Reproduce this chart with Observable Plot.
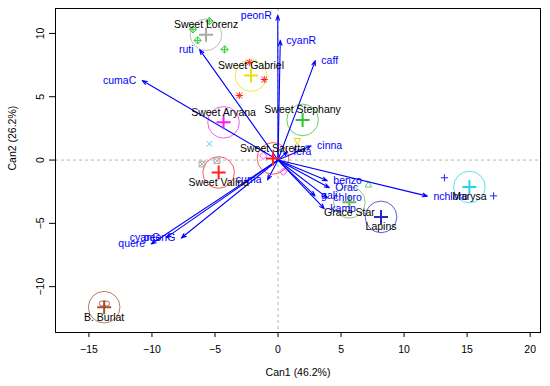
<!DOCTYPE html>
<html><head><meta charset="utf-8">
<script src="https://cdn.jsdelivr.net/npm/d3@7"></script>
<script src="https://cdn.jsdelivr.net/npm/@observablehq/plot@0.6"></script>
<style>body{margin:0;background:#fff;} svg{display:block}</style>
</head><body><div id="chart"></div>
<script>
// ---- data ----
const groupNames = ["Sweet Lorenz","Sweet Gabriel","Sweet Aryana","Sweet Stephany","Sweet Saretta","Sweet Valina","Grace Star","Lapins","Marysa","B. Burlat"];
const groupX = [-5.71,-2.14,-4.32,1.95,-0.40,-4.71,5.66,8.17,15.18,-13.79];
const groupY = [9.90,6.67,2.98,3.17,0.13,-0.98,-3.34,-4.49,-2.13,-11.62];
const groupColors = ["#a8a8a8","#ece000","#f020f0","#30c030","#ff2020","#ff2020","#70b840","#2828c8","#20d8e8","#a0522d"];

const varNames = ["peonR","cyanR","caff","cumaC","ruti","cinna","fera","cuma","benzo","Orac","chloro","gali","kamp","nchloro","quere","cyanG","peonG"];
const varX = [-0.02,0.18,2.96,-10.77,-6.22,2.62,0.74,-0.83,3.91,4.07,3.91,2.94,3.67,11.85,-10.06,-8.87,-7.67];
const varY = [11.43,9.45,7.85,6.28,8.72,1.13,0.66,-1.56,-1.64,-2.19,-2.99,-2.83,-3.84,-2.85,-6.63,-6.13,-6.16];

const obsX = [-5.45,-6.75,-6.38,-4.24,-2.28,-1.09,-3.07,-5.45,1.53,-1.17,0.42,-6.03,-4.84,7.17,13.2,17.1,-13.97,-13.57];
const obsY = [10.98,10.32,9.45,8.74,7.71,6.36,5.10,1.29,1.53,0.34,-0.93,-0.32,-0.06,-1.96,-1.40,-2.83,-11.33,-11.33];
const obsShape = ["diamondPlus","diamondPlus","diamondPlus","diamondPlus","asterisk","asterisk","asterisk","times","triDown","diamond","diamond","squareX","squareX","triUp","plus","plus","circle","circle"];
const shapeNames = ["diamondPlus","asterisk","times","triDown","diamond","squareX","triUp","plus","circle"];
const shapeColors = ["#33cc33","#ff2020","#40d8f0","#e8d800","#ff40ff","#aaaaaa","#66cc66","#2020ff","#c06060"];

const xTicks = [-15,-10,-5,0,5,10,15,20];
const yTicks = [-10,-5,0,5,10];
const xTitle = "Can1 (46.2%)";
const yTitle = "Can2 (26.2%)";

// ---- build tables ----
const groups = groupNames.map((n,i)=>({name:n, x:groupX[i], y:groupY[i], color:groupColors[i]}));
const vars = varNames.map((n,i)=>({name:n, x:varX[i], y:varY[i]}));
const obs = obsX.map((x,i)=>({x, y:obsY[i], shape:obsShape[i], color:shapeColors[shapeNames.indexOf(obsShape[i])]}));

// ---- custom symbols (r = half extent) ----
const sym = f => ({draw(c,size){ const r=Math.sqrt(size/Math.PI); f(c,r); }});
const plusP = (c,r)=>{c.moveTo(-r,0);c.lineTo(r,0);c.moveTo(0,-r);c.lineTo(0,r);};
const timesP = (c,r)=>{const a=r*0.78;c.moveTo(-a,-a);c.lineTo(a,a);c.moveTo(-a,a);c.lineTo(a,-a);};
const diamondP = (c,r)=>{c.moveTo(0,-r);c.lineTo(r,0);c.lineTo(0,r);c.lineTo(-r,0);c.closePath();};
const symbols = {
  plus: sym(plusP),
  times: sym(timesP),
  asterisk: sym((c,r)=>{plusP(c,r);timesP(c,r);}),
  diamond: sym(diamondP),
  diamondPlus: sym((c,r)=>{diamondP(c,r);plusP(c,r);}),
  squareX: sym((c,r)=>{const a=r*0.8;c.rect(-a,-a,2*a,2*a);c.moveTo(-a,-a);c.lineTo(a,a);c.moveTo(-a,a);c.lineTo(a,-a);}),
  triUp: sym((c,r)=>{c.moveTo(0,-r);c.lineTo(r*0.9,r*0.6);c.lineTo(-r*0.9,r*0.6);c.closePath();}),
  triDown: sym((c,r)=>{c.moveTo(0,r);c.lineTo(r*0.9,-r*0.6);c.lineTo(-r*0.9,-r*0.6);c.closePath();}),
  circle: sym((c,r)=>{c.moveTo(r,0);c.arc(0,0,r,0,2*Math.PI);})
};

const font = "'Liberation Sans', Arial, Helvetica, sans-serif";
const obsMarks = shapeNames.map(s => Plot.dot(obs.filter(d=>d.shape===s), {
  x:"x", y:"y", symbol: symbols[s], r: s==="circle"?2.6:3.6, fill:"none", stroke:"color", strokeWidth:1
}));

const chart = Plot.plot({
  width: 550, height: 386,
  marginLeft: 55, marginRight: 10, marginTop: 8, marginBottom: 54,
  x: {domain: [-17.65, 20.82]},
  y: {domain: [-13.62, 11.97]},
  color: {type: "identity"},
  style: {fontFamily: font, fontSize: "11px", background: "#fff", color: "#000"},
  marks: [
    Plot.ruleY([0], {stroke:"#aaa", strokeDasharray:"3,3", strokeWidth:0.9}),
    Plot.ruleX([0], {stroke:"#aaa", strokeDasharray:"3,3", strokeWidth:0.9}),
    Plot.dot(groups, {x:"x", y:"y", r:15.8, fill:"none", stroke:"color", strokeWidth:1, strokeOpacity:0.75}),
    ...obsMarks,
    Plot.arrow(vars, {x1: ()=>0, y1: ()=>0, x2:"x", y2:"y", stroke:"blue", strokeWidth:1.1, headLength:7, headAngle:40}),
    Plot.dot(groups, {x:"x", y:"y", r:7, symbol: symbols.plus, fill:"none", stroke:"color", strokeWidth:2}),
    Plot.text(vars.filter(d=>d.x>=0), {x:"x", y:"y", text:"name", textAnchor:"start", dx:6, fill:"blue", fontSize:10.5}),
    Plot.text(vars.filter(d=>d.x<0), {x:"x", y:"y", text:"name", textAnchor:"end", dx:-6, fill:"blue", fontSize:10.5}),
    Plot.text(groups.filter(d=>d.y>0), {x:"x", y:"y", text:"name", dy:-10, fill:"black", fontSize:10.5}),
    Plot.text(groups.filter(d=>d.y<=0), {x:"x", y:"y", text:"name", dy:10, fill:"black", fontSize:10.5}),
    Plot.frame({stroke:"#000", strokeWidth:1}),
    Plot.axisX({ticks: xTicks, tickSize: 5, tickPadding: 8, label: null, fontSize: 10.5}),
    Plot.axisY({ticks: yTicks, tickSize: 6, tickPadding: 6, tickRotate: -90, label: null, fontSize: 10.5}),
    Plot.text([xTitle], {frameAnchor:"bottom", dy:43, text: d=>d, fontSize:10.5}),
    Plot.text([yTitle], {frameAnchor:"left", dx:-43, rotate:-90, text: d=>d, fontSize:10.5})
  ]
});
document.getElementById("chart").appendChild(chart);
</script>
</body></html>
